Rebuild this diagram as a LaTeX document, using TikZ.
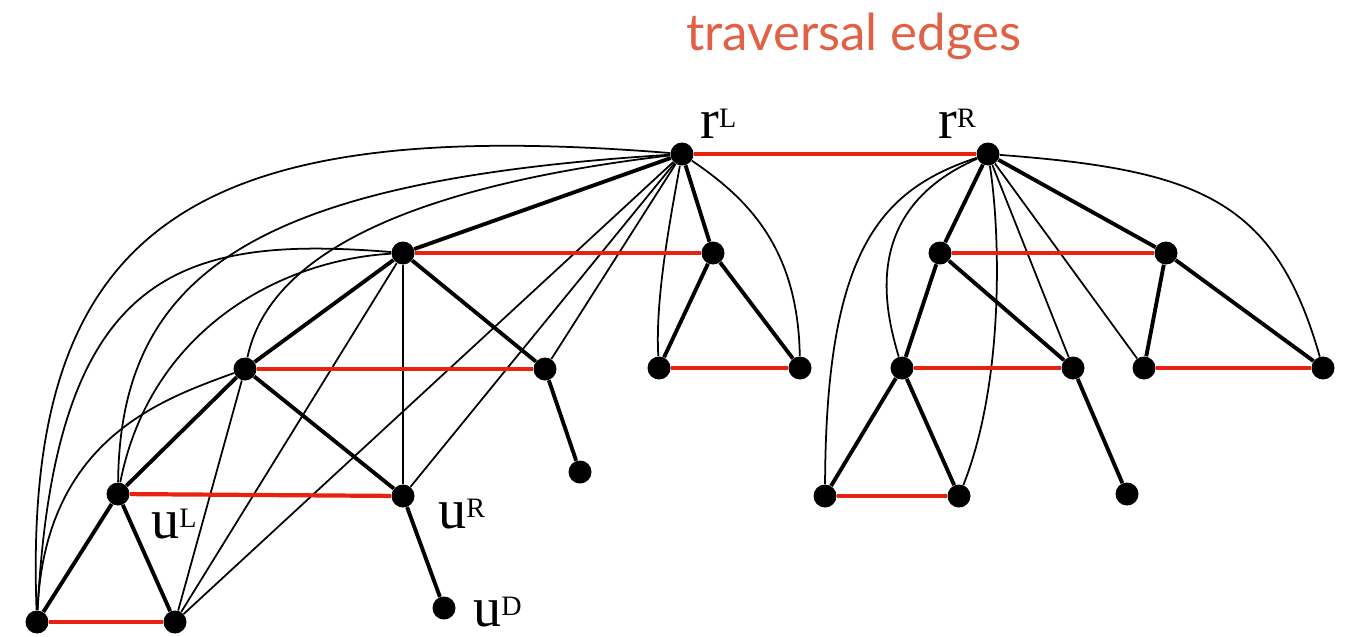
\documentclass[tikz,border=0pt]{standalone}
\usepackage{fontspec}
\usepackage{tikz}
\newfontfamily\labfont{Liberation Serif}
\newfontfamily\titlefont{Lato}
\definecolor{travred}{RGB}{232,34,14}
\definecolor{titleorange}{RGB}{225,97,70}
\newcommand{\vlab}[2]{{\labfont\fontsize{32}{32}\selectfont #1\raisebox{6pt}{\fontsize{16}{16}\selectfont #2}}}

\begin{document}
\begin{tikzpicture}[x=0.02cm, y=-0.02cm,
  dot/.style={circle, fill=black, inner sep=0pt, minimum size=0.46cm},
  tree/.style={line width=2.2pt},
  trav/.style={line width=2.4pt, travred},
  anc/.style={line width=1pt},
  lab/.style={inner sep=0pt, anchor=base west}]
  \useasboundingbox (0,0) rectangle (1351,636);
  % linker Baum
  \node[dot] (rL) at (682,154) {};
  \node[dot] (a) at (403,253) {};
  \node[dot] (b) at (713,253) {};
  \node[dot] (c) at (245,369) {};
  \node[dot] (d) at (545,369) {};
  \node[dot] (e) at (659,368) {};
  \node[dot] (f) at (800,368) {};
  \node[dot] (uL) at (118,494) {};
  \node[dot] (uR) at (403,496) {};
  \node[dot] (i) at (580,472) {};
  \node[dot] (j) at (37,622) {};
  \node[dot] (k) at (175,622) {};
  \node[dot] (uD) at (444,608) {};
  % rechter Baum
  \node[dot] (rR) at (988,154) {};
  \node[dot] (m) at (940,253) {};
  \node[dot] (n) at (1166,253) {};
  \node[dot] (o) at (902,368) {};
  \node[dot] (p) at (1073,368) {};
  \node[dot] (q) at (1144,368) {};
  \node[dot] (s) at (1323,368) {};
  \node[dot] (t) at (825,496) {};
  \node[dot] (v) at (959,496) {};
  \node[dot] (w) at (1127,494) {};
  % Vorfahren-Kanten
  \draw[anc] (rL) .. controls (198,115) and (22,220) .. (j);
  \draw[anc] (rL) .. controls (260,180) and (120,270) .. (uL);
  \draw[anc] (rL) .. controls (420,185) and (270,250) .. (c);
  \draw[anc] (a) .. controls (180,235) and (55,270) .. (j);
  \draw[anc] (a) .. controls (280,260) and (150,330) .. (uL);
  \draw[anc] (c) .. controls (160,400) and (45,440) .. (j);
  \draw[anc] (rL) .. controls (670,220) and (655,300) .. (e);
  \draw[anc] (rL) .. controls (750,200) and (798,250) .. (f);
  \draw[anc] (rL) -- (d);
  \draw[anc] (rL) -- (uR);
  \draw[anc] (rL) -- (k);
  \draw[anc] (a) -- (uR);
  \draw[anc] (a) -- (k);
  \draw[anc] (c) -- (k);
  \draw[anc] (rR) .. controls (880,190) and (826,250) .. (t);
  \draw[anc] (rR) .. controls (860,210) and (885,310) .. (o);
  \draw[anc] (rR) .. controls (1000,230) and (1005,380) .. (v);
  \draw[anc] (rR) .. controls (1200,170) and (1275,200) .. (s);
  \draw[anc] (rR) -- (p);
  \draw[anc] (rR) -- (q);
  % Baumkanten
  \draw[tree] (rL) -- (a);
  \draw[tree] (rL) -- (b);
  \draw[tree] (a) -- (c);
  \draw[tree] (a) -- (d);
  \draw[tree] (b) -- (e);
  \draw[tree] (b) -- (f);
  \draw[tree] (c) -- (uL);
  \draw[tree] (c) -- (uR);
  \draw[tree] (d) -- (i);
  \draw[tree] (uL) -- (j);
  \draw[tree] (uL) -- (k);
  \draw[tree] (uR) -- (uD);
  \draw[tree] (rR) -- (m);
  \draw[tree] (rR) -- (n);
  \draw[tree] (m) -- (o);
  \draw[tree] (m) -- (p);
  \draw[tree] (n) -- (q);
  \draw[tree] (n) -- (s);
  \draw[tree] (o) -- (t);
  \draw[tree] (o) -- (v);
  \draw[tree] (p) -- (w);
  % Traversierungskanten
  \draw[trav] (rL) -- (rR);
  \draw[trav] (a) -- (b);
  \draw[trav] (c) -- (d);
  \draw[trav] (e) -- (f);
  \draw[trav] (uL) -- (uR);
  \draw[trav] (j) -- (k);
  \draw[trav] (m) -- (n);
  \draw[trav] (o) -- (p);
  \draw[trav] (q) -- (s);
  \draw[trav] (t) -- (v);
  % Beschriftungen
  \node[lab, text=titleorange] (title) at (686,50) {\titlefont\fontsize{29}{29}\selectfont traversal edges};
  \node[lab] (rLlab) at (700,138) {\vlab{r}{L}};
  \node[lab] (rRlab) at (938,138) {\vlab{r}{R}};
  \node[lab] (uLlab) at (151,538) {\vlab{u}{L}};
  \node[lab] (uRlab) at (438,528) {\vlab{u}{R}};
  \node[lab] (uDlab) at (473,626) {\vlab{u}{D}};
\end{tikzpicture}
\end{document}
